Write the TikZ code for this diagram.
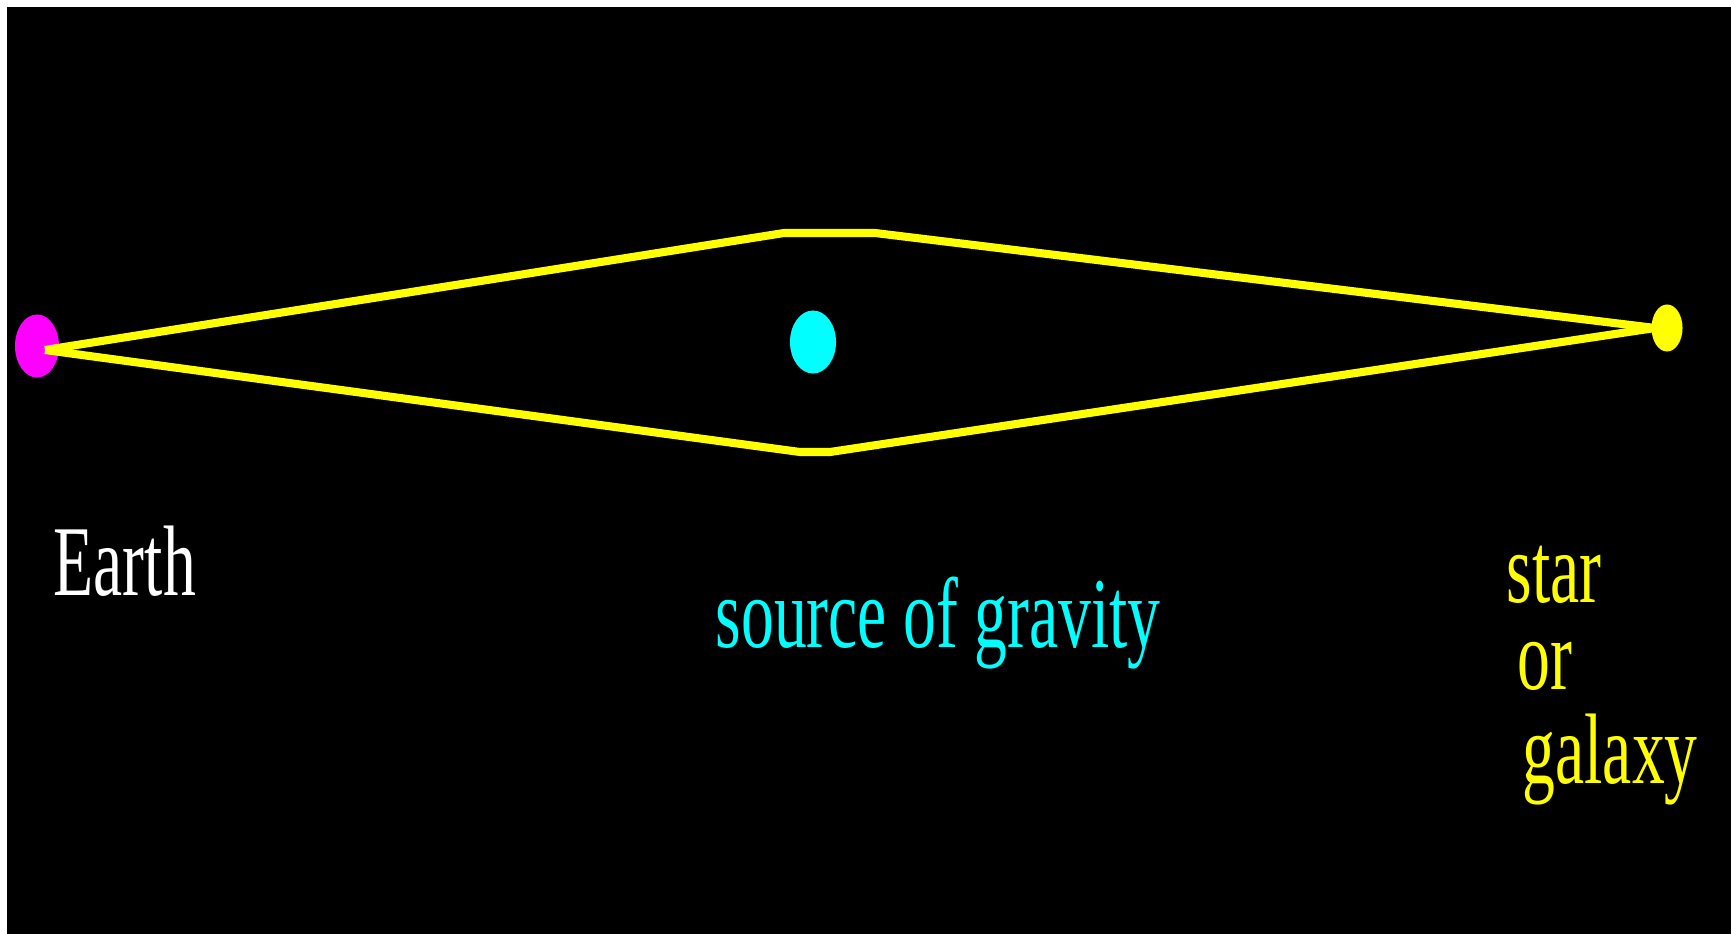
\documentclass[tikz,border=0pt]{standalone}
\usepackage{fontspec}
\newfontfamily\narrowserif[FakeStretch=0.655]{Liberation Serif}
\usetikzlibrary{shapes.geometric, calc}
\definecolor{colEarth}{RGB}{255,0,255}
\definecolor{colLens}{RGB}{0,255,255}
\definecolor{colStar}{RGB}{255,255,0}

\begin{document}
\begin{tikzpicture}[
  x=0.01cm, y=-0.01cm,
  body/.style={ellipse, inner sep=0pt},
  lbl/.style={anchor=base west, inner sep=0pt, text height=0.68em, text depth=0.22em,
              font=\narrowserif\fontsize{28.5}{34}\selectfont},
  ray/.style={draw=colStar, line width=2.3pt, line join=round},
]
\useasboundingbox (0,0) rectangle (1731,934);
\fill[white] (0,0) rectangle (1731,934);
\fill[black] (7,7) rectangle (1731,934);

% bodies
\node[body, fill=colEarth, minimum width=0.44cm, minimum height=0.63cm] (earth) at (37,346) {};
\node[body, fill=colLens, minimum width=0.46cm, minimum height=0.63cm] (lens) at (813,342) {};
\node[body, fill=colStar, minimum width=0.31cm, minimum height=0.47cm] (star) at (1667,328) {};

% light paths
\coordinate (eOut) at (45,350);
\coordinate (sIn) at (1655,328);
\coordinate (upL) at (784,233);
\coordinate (upR) at (875,233);
\coordinate (lowL) at (800,452);
\coordinate (lowR) at (830,452);
\draw[ray] (eOut) -- (upL) -- (upR) -- (sIn);
\draw[ray] (eOut) -- (lowL) -- (lowR) -- (sIn);

% labels
\node[lbl, text=white] (earthTxt) at (53,596) {Earth};
\node[lbl, text=colLens] (lensTxt) at (715,647) {source of gravity};
\node[lbl, text=colStar, text depth=0pt] (starTxt) at (1506,603) {star};
\node[lbl, text=colStar, text depth=0pt] (orTxt) at (1517,689) {or};
\node[lbl, text=colStar] (galaxyTxt) at (1522,783) {galaxy};

\end{tikzpicture}
\end{document}
